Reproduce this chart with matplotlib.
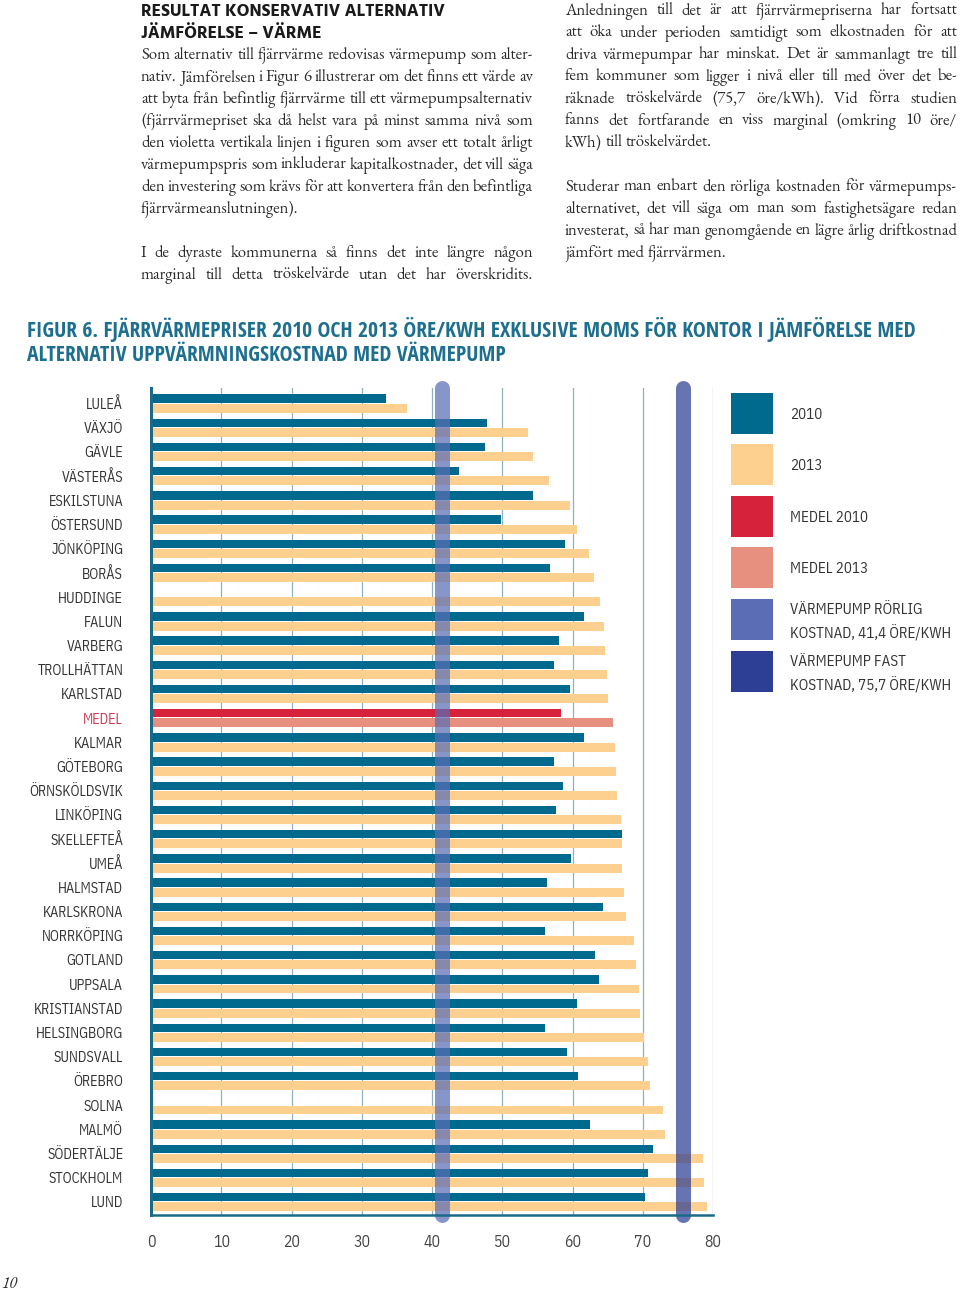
import numpy as np
import matplotlib
matplotlib.use('Agg')
import matplotlib.pyplot as plt
from matplotlib import font_manager as fm
from matplotlib.patches import Rectangle

# ---------------- data ----------------
cities = ["LULEÅ", "VÄXJÖ", "GÄVLE", "VÄSTERÅS", "ESKILSTUNA", "ÖSTERSUND", "JÖNKÖPING",
          "BORÅS", "HUDDINGE", "FALUN", "VARBERG", "TROLLHÄTTAN", "KARLSTAD", "MEDEL",
          "KALMAR", "GÖTEBORG", "ÖRNSKÖLDSVIK", "LINKÖPING", "SKELLEFTEÅ", "UMEÅ",
          "HALMSTAD", "KARLSKRONA", "NORRKÖPING", "GOTLAND", "UPPSALA", "KRISTIANSTAD",
          "HELSINGBORG", "SUNDSVALL", "ÖREBRO", "SOLNA", "MALMÖ", "SÖDERTÄLJE",
          "STOCKHOLM", "LUND"]
price_2010 = [33.4, 47.8, 47.5, 43.8, 54.4, 49.8, 58.9, 56.8, None, 61.7, 58.1, 57.4,
              59.7, 58.4, 61.6, 57.4, 58.6, 57.6, 67.0, 59.8, 56.4, 64.4, 56.1, 63.2,
              63.8, 60.6, 56.1, 59.2, 60.8, None, 62.5, 71.5, 70.8, 70.3]
price_2013 = [36.5, 53.7, 54.4, 56.7, 59.7, 60.6, 62.3, 63.1, 63.9, 64.5, 64.6, 64.9,
              65.0, 65.8, 66.1, 66.2, 66.4, 66.9, 67.0, 67.0, 67.3, 67.6, 68.7, 69.0,
              69.5, 69.6, 70.2, 70.8, 71.1, 72.9, 73.2, 78.6, 78.7, 79.1]
hp_variable = 41.4
hp_fixed = 75.7
x_ticks = [0, 10, 20, 30, 40, 50, 60, 70, 80]
legend_labels = ["2010", "2013", "MEDEL 2010", "MEDEL 2013",
                 "VÄRMEPUMP RÖRLIG\nKOSTNAD, 41,4 ÖRE/KWH",
                 "VÄRMEPUMP FAST\nKOSTNAD, 75,7 ÖRE/KWH"]

title_lines = ["FIGUR 6. FJÄRRVÄRMEPRISER 2010 OCH 2013 ÖRE/KWH EXKLUSIVE MOMS FÖR KONTOR I JÄMFÖRELSE MED",
               "ALTERNATIV UPPVÄRMNINGSKOSTNAD MED VÄRMEPUMP"]
heading_lines = ["RESULTAT KONSERVATIV ALTERNATIV", "JÄMFÖRELSE – VÄRME"]
left_text = [
    "Som alternativ till fjärrvärme redovisas värmepump som alter-",
    "nativ. Jämförelsen i Figur 6 illustrerar om det finns ett värde av",
    "att byta från befintlig fjärrvärme till ett värmepumpsalternativ",
    "(fjärrvärmepriset ska då helst vara på minst samma nivå som",
    "den violetta vertikala linjen i figuren som avser ett totalt årligt",
    "värmepumpspris som inkluderar kapitalkostnader, det vill säga",
    "den investering som krävs för att konvertera från den befintliga",
    "fjärrvärmeanslutningen).",
    None,
    "I de dyraste kommunerna så finns det inte längre någon",
    "marginal till detta tröskelvärde utan det har överskridits.",
]
left_just = [1, 1, 1, 1, 1, 1, 1, 0, 0, 1, 1]
right_text = [
    "Anledningen till det är att fjärrvärmepriserna har fortsatt",
    "att öka under perioden samtidigt som elkostnaden för att",
    "driva värmepumpar har minskat. Det är sammanlagt tre till",
    "fem kommuner som ligger i nivå eller till med över det be-",
    "räknade tröskelvärde (75,7 öre/kWh). Vid förra studien",
    "fanns det fortfarande en viss marginal (omkring 10 öre/",
    "kWh) till tröskelvärdet.",
    None,
    "Studerar man enbart den rörliga kostnaden för värmepumps-",
    "alternativet, det vill säga om man som fastighetsägare redan",
    "investerat, så har man genomgående en lägre årlig driftkostnad",
    "jämfört med fjärrvärmen.",
]
right_just = [1, 1, 1, 1, 1, 1, 0, 0, 1, 1, 1, 0]

# ---------------- styles ----------------
C2010 = '#006a8e'
C2013 = '#fdd08f'
CM10 = '#d7223b'
CM13 = '#e8907f'
CROR = '#5b6db5'
CFAST = '#2d3f94'
TEAL = '#1d6f8f'


def has_font(name):
    try:
        fm.findfont(fm.FontProperties(family=name), fallback_to_default=False)
        return True
    except Exception:
        return False


def pick(cands, default):
    for c in cands:
        if has_font(c):
            return c
    return default


# light condensed label font
LIGHT = dict(family='Open Sans', stretch='condensed', weight=300)
try:
    f = fm.findfont(fm.FontProperties(**LIGHT), fallback_to_default=False)
    if 'ondensed' not in f:
        raise ValueError
except Exception:
    LIGHT = dict(family=pick(['IBM Plex Sans Condensed', 'PT Sans Narrow'], 'Roboto'),
                 weight='normal')
BOLDC = dict(family=pick(['Open Sans Condensed', 'IBM Plex Sans Condensed', 'PT Sans Narrow'],
                         'Roboto'), weight='bold')
SERIF = pick(['EB Garamond', 'Cormorant Garamond', 'Crimson Text', 'Crimson Pro'], 'Liberation Serif')
SANS = pick(['Hind', 'Noto Sans', 'Roboto'], 'DejaVu Sans')

W, H = 960, 1291
fig = plt.figure(figsize=(W / 100, H / 100), dpi=100)
renderer = fig.canvas.get_renderer()


def fx(x):
    return x / W


def fy(y):
    return 1 - y / H


def measure(s, size, **kw):
    t = fig.text(0, 0, s, fontsize=size, **kw)
    w = t.get_window_extent(renderer).width
    t.remove()
    return w


def fit_size(s, target, base=10.0, **kw):
    return base * target / measure(s, base, **kw)


def paragraph(lines, just, x0, x1, b0, pitch, size, family, color):
    sp = measure('a a', size, family=family) - measure('aa', size, family=family)
    for i, (line, j) in enumerate(zip(lines, just)):
        if line is None:
            continue
        y = b0 + i * pitch
        words = line.split(' ')
        ts = [fig.text(fx(x0), fy(y), w, fontsize=size, family=family, color=color,
                       va='baseline', ha='left') for w in words]
        ws = [t.get_window_extent(renderer).width for t in ts]
        gap = (x1 - x0 - sum(ws)) / (len(words) - 1) if (j and len(words) > 1) else sp
        x = x0
        for t, w in zip(ts, ws):
            t.set_x(fx(x))
            x += w + gap


# body text size: as large as possible (up to 12pt) with a minimum word gap
body_size = 12.0
min_gap = 2.6
scale = 1.0
for L, J in list(zip(left_text, left_just)) + list(zip(right_text, right_just)):
    if L and J:
        words = L.split(' ')
        wsum = sum(measure(w, body_size, family=SERIF) for w in words)
        avail = 392.0 - min_gap * (len(words) - 1)
        scale = min(scale, avail / wsum)
body_size *= scale

paragraph(left_text, left_just, 141, 533, 59, 22, body_size, SERIF, '#2a2a2a')
paragraph(right_text, right_just, 565, 957, 14.5, 22, body_size, SERIF, '#2a2a2a')

# heading
hs = fit_size(heading_lines[0], 302, family=SANS, weight='bold')
for yb, line in zip([15.5, 37.5], heading_lines):
    fig.text(fx(141), fy(yb), line, fontsize=hs, family=SANS, weight='bold',
             color='#1a1a1a', va='baseline')

# figure title
ts_ = fit_size(title_lines[0], 885, **BOLDC)
for yb, line in zip([337.5, 361.5], title_lines):
    fig.text(fx(27), fy(yb), line, fontsize=ts_, color=TEAL, va='baseline', **BOLDC)

# ---------------- chart ----------------
ax = fig.add_axes([fx(151), fy(1215), 562 / W, 827 / H])
n = len(cities)
ypos = np.arange(n)
v10 = np.array([np.nan if v is None else v for v in price_2010], dtype=float)
v13 = np.array(price_2013, dtype=float)
col10 = [CM10 if c == 'MEDEL' else C2010 for c in cities]
col13 = [CM13 if c == 'MEDEL' else C2013 for c in cities]
ax.barh(ypos - 0.2, np.nan_to_num(v10), height=0.345, color=col10, zorder=2, linewidth=0)
ax.barh(ypos + 0.2, v13, height=0.37, color=col13, zorder=2, linewidth=0)

ax.set_xlim(0, 80)
ax.set_ylim(n - 1 + 0.54, -0.64)
ax.set_xticks(x_ticks)
ax.grid(axis='x', color='#8fb0bf', linewidth=0.9, zorder=0)
ax.set_axisbelow(True)

for v, c in [(hp_variable, CROR), (hp_fixed, CFAST)]:
    ax.axvline(v, ymin=0, ymax=1, color=c, alpha=0.72, linewidth=10.8,
               solid_capstyle='round', clip_on=False, zorder=3)

for s in ['top', 'right']:
    ax.spines[s].set_visible(False)
ax.spines['left'].set_color('#1a6a89')
ax.spines['left'].set_linewidth(2.2)
ax.spines['bottom'].set_color('#1a6a89')
ax.spines['bottom'].set_linewidth(1.8)
ax.spines['left'].set_zorder(4)
ax.spines['bottom'].set_zorder(4)

lab_size = fit_size("KRISTIANSTAD", 89, **LIGHT)
ax.set_yticks(ypos)
ax.set_yticklabels(cities, fontsize=lab_size, color='#333333', **LIGHT)
for lbl, c in zip(ax.get_yticklabels(), cities):
    if c == 'MEDEL':
        lbl.set_color('#c83c55')
ax.set_xticklabels([str(t) for t in x_ticks], fontsize=lab_size * 1.12, color='#444444', **LIGHT)
ax.tick_params(axis='y', length=0, pad=20)
ax.tick_params(axis='x', length=0, pad=14)

# ---------------- legend ----------------
leg_cols = [C2010, C2013, CM10, CM13, CROR, CFAST]
leg_tops = [393, 444, 496, 547, 599, 651]
leg_size = fit_size("KOSTNAD, 75,7 ÖRE/KWH", 161, **LIGHT)
for lab, col, top in zip(legend_labels, leg_cols, leg_tops):
    fig.patches.append(Rectangle((fx(731), fy(top + 41)), 42 / W, 41 / H,
                                 transform=fig.transFigure, color=col, linewidth=0))
    parts = lab.split('\n')
    ybs = [top + 25.5] if len(parts) == 1 else [top + 15.5, top + 39.5]
    for yb, p in zip(ybs, parts):
        fig.text(fx(790), fy(yb), p, fontsize=leg_size, color='#333333',
                 va='baseline', **LIGHT)

# page number
fig.text(fx(1), fy(1288), '10', fontsize=12, family=SERIF, style='italic',
         color='#2a2a2a', va='baseline')

fig.savefig('out.png', dpi=100)
